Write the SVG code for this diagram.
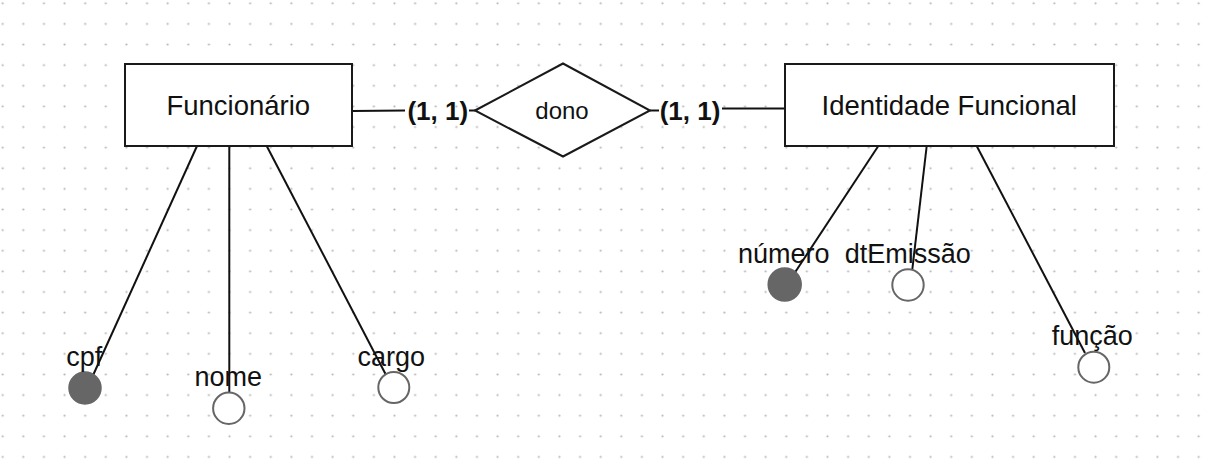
<svg xmlns="http://www.w3.org/2000/svg" width="1209" height="470" viewBox="0 0 1209 470">
  <style>
    .ent { fill: #ffffff; stroke: #1a1a1a; stroke-width: 2; }
    .rel { fill: #ffffff; stroke: #1a1a1a; stroke-width: 2; }
    .lbl { font-family: "Liberation Sans", Arial, Helvetica, sans-serif; fill: #111111; text-anchor: middle; }
    .big { font-size: 27.5px; }
    .att { font-size: 27px; }
    .card { font-size: 26px; font-weight: bold; }
    .conn { stroke: #111111; stroke-width: 2; fill: none; }
    .key { fill: #666666; stroke: #666666; stroke-width: 1.5; }
    .opt { fill: #ffffff; stroke: #666666; stroke-width: 2; }
  </style>
  <defs>
    <pattern id="dots" patternUnits="userSpaceOnUse" x="-7.61" y="-7.01" width="20.62" height="20.62">
      <circle cx="10.31" cy="10.31" r="1.1" fill="#b4b4b4"/>
    </pattern>
  </defs>
  <rect x="0" y="0" width="1209" height="470" fill="#ffffff"/>
  <rect x="0" y="0" width="1209" height="470" fill="url(#dots)"/>

  <g id="connectors">
    <line class="conn" x1="352" y1="111" x2="405" y2="110.5"/>
    <line class="conn" x1="469" y1="110.5" x2="475" y2="110.5"/>
    <line class="conn" x1="650" y1="110.5" x2="659" y2="110.5"/>
    <line class="conn" x1="722" y1="108.5" x2="785" y2="108.5"/>
    <line class="conn" x1="197" y1="146" x2="90" y2="382"/>
    <line class="conn" x1="229.3" y1="146" x2="229.3" y2="392.5"/>
    <line class="conn" x1="266.7" y1="146" x2="385.5" y2="374"/>
    <line class="conn" x1="878.3" y1="146" x2="790" y2="280"/>
    <line class="conn" x1="926.7" y1="146" x2="912.3" y2="269.5"/>
    <line class="conn" x1="976.7" y1="146" x2="1085" y2="353"/>
    <text class="lbl card" x="437.8" y="120">(1, 1)</text>
    <text class="lbl card" x="690" y="120">(1, 1)</text>
  </g>

  <g id="funcionario">
    <rect class="ent" x="125" y="64" width="227" height="82"/>
    <text class="lbl big" x="238.3" y="115">Funcionário</text>
  </g>

  <g id="dono">
    <polygon class="rel" points="475,110.5 563,63.5 650,110.5 563,156.5"/>
    <text class="lbl" style="font-size:24px" x="562" y="119">dono</text>
  </g>

  <g id="identidade-funcional">
    <rect class="ent" x="785" y="64" width="329" height="82"/>
    <text class="lbl big" x="949.2" y="115">Identidade Funcional</text>
  </g>

  <g id="attr-cpf">
    <circle class="key" cx="85" cy="388" r="16"/>
    <text class="lbl att" x="84.2" y="366">cpf</text>
  </g>
  <g id="attr-nome">
    <circle class="opt" cx="228.8" cy="408.3" r="15.7"/>
    <text class="lbl att" x="228.2" y="386">nome</text>
  </g>
  <g id="attr-cargo">
    <circle class="opt" cx="393.8" cy="387.5" r="15.5"/>
    <text class="lbl att" x="391.2" y="366">cargo</text>
  </g>
  <g id="attr-numero">
    <circle class="key" cx="784.7" cy="284.5" r="16.5"/>
    <text class="lbl att" x="783.8" y="263">número</text>
  </g>
  <g id="attr-dtEmissao">
    <circle class="opt" cx="908" cy="285" r="15.7"/>
    <text class="lbl att" x="907.8" y="263">dtEmissão</text>
  </g>
  <g id="attr-funcao">
    <circle class="opt" cx="1093.8" cy="367.2" r="15.5"/>
    <text class="lbl att" x="1092.2" y="345">função</text>
  </g>
</svg>
